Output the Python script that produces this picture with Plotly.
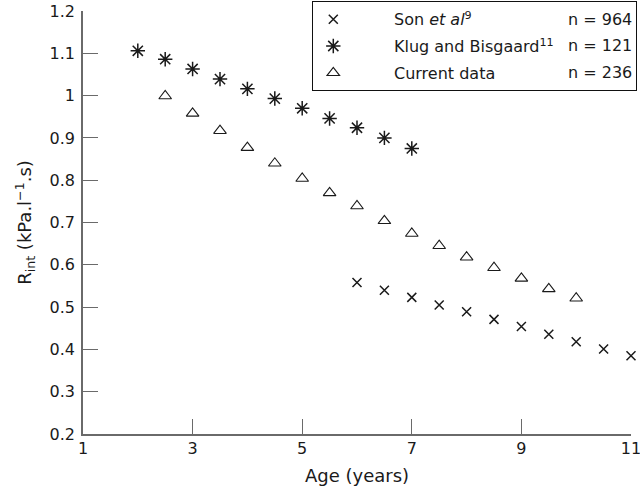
import plotly.graph_objects as go

# Data
son_age = [6, 6.5, 7, 7.5, 8, 8.5, 9, 9.5, 10, 10.5, 11]
son_rint = [0.558, 0.540, 0.523, 0.505, 0.489, 0.471, 0.454, 0.436, 0.418, 0.401, 0.385]

klug_age = [2, 2.5, 3, 3.5, 4, 4.5, 5, 5.5, 6, 6.5, 7]
klug_rint = [1.106, 1.086, 1.063, 1.039, 1.016, 0.993, 0.970, 0.946, 0.924, 0.900, 0.875]

cur_age = [2.5, 3, 3.5, 4, 4.5, 5, 5.5, 6, 6.5, 7, 7.5, 8, 8.5, 9, 9.5, 10]
cur_rint = [0.999, 0.958, 0.917, 0.877, 0.840, 0.804, 0.770, 0.739, 0.704, 0.674,
            0.645, 0.618, 0.593, 0.568, 0.543, 0.521]

series_names = ["Son <i>et al</i><sup>9</sup>", "Klug and Bisgaard<sup>11</sup>", "Current data"]
series_n = ["n = 964", "n = 121", "n = 236"]

x_ticks = [1, 3, 5, 7, 9, 11]
y_ticks = [0.2, 0.3, 0.4, 0.5, 0.6, 0.7, 0.8, 0.9, 1.0, 1.1, 1.2]

FONT = "DejaVu Sans"
INK = "#1a1a1a"
AX = "#6a6a6a"
LEG_SIZE = 16
pre = "\u00a0" * 8
post = "\u00a0" * 15

# paper geometry (px)
W, H = 640, 492
ML, MR, MT, MB = 83, 3, 1, 58
PW, PH = W - ML - MR, H - MT - MB
plot_w, plot_h = 548, 423

fig = go.Figure()
fig.add_trace(go.Scatter(x=son_age, y=son_rint, mode="markers", name=pre + series_names[0] + post,
                         legendgroup="a", cliponaxis=False,
                         marker=dict(symbol="x-thin-open", size=9, color=INK,
                                     line=dict(width=1.5, color=INK))))
fig.add_trace(go.Scatter(x=klug_age, y=klug_rint, mode="markers", name=pre + series_names[1] + post,
                         legendgroup="b", cliponaxis=False,
                         marker=dict(symbol="asterisk-open", size=12, color=INK,
                                     line=dict(width=1.5, color=INK))))
fig.add_trace(go.Scatter(x=cur_age, y=cur_rint, mode="markers", name=pre + series_names[2] + post,
                         legendgroup="c", cliponaxis=False,
                         marker=dict(symbol="triangle-up-open", size=11, color=INK,
                                     line=dict(width=1.1, color=INK))))

row_y = [19.5, 46, 72.5]
for txt, ry in zip(series_n, row_y):
    fig.add_annotation(text=txt, xref="paper", yref="paper",
                       x=(634 - ML) / PW, y=(H - MB - ry) / PH,
                       xanchor="right", yanchor="middle", showarrow=False,
                       font=dict(family=FONT, size=LEG_SIZE, color=INK))

axis_common = dict(showline=True, linecolor=AX, linewidth=1.5, mirror=False,
                   ticks="inside", ticklen=15, tickwidth=1.2, tickcolor=AX,
                   showgrid=False, zeroline=False, automargin=False,
                   ticklabeloverflow="allow",
                   tickfont=dict(family=FONT, size=16, color=INK))

fig.update_layout(
    width=W, height=H,
    margin=dict(l=ML, r=MR, t=MT, b=MB, autoexpand=False),
    paper_bgcolor="white", plot_bgcolor="white",
    font=dict(family=FONT, size=16, color=INK),
    xaxis=dict(range=[1, 11], tickvals=x_ticks, domain=[0, plot_w / PW],
               ticklabelstandoff=-1,
               title=dict(text="Age (years)", standoff=12, font=dict(family=FONT, size=18, color=INK)),
               **axis_common),
    yaxis=dict(range=[0.2, 1.2], tickvals=y_ticks, domain=[0, plot_h / PH],
               ticklabelstandoff=3,
               title=dict(text="R<sub>int</sub> (kPa.l<sup>\u2212</sup><sup>1</sup>.s)", standoff=13,
                          font=dict(family=FONT, size=18, color=INK)),
               **axis_common),
    legend=dict(x=1, y=1, xanchor="right", yanchor="top",
                bordercolor="#111111", borderwidth=1.3, bgcolor="white",
                font=dict(family=FONT, size=LEG_SIZE, color=INK), itemwidth=30,
                tracegroupgap=3),
    showlegend=True,
)

fig.write_html("out.html", config={"displayModeBar": False},
               post_script="document.body.style.margin='0px';")
